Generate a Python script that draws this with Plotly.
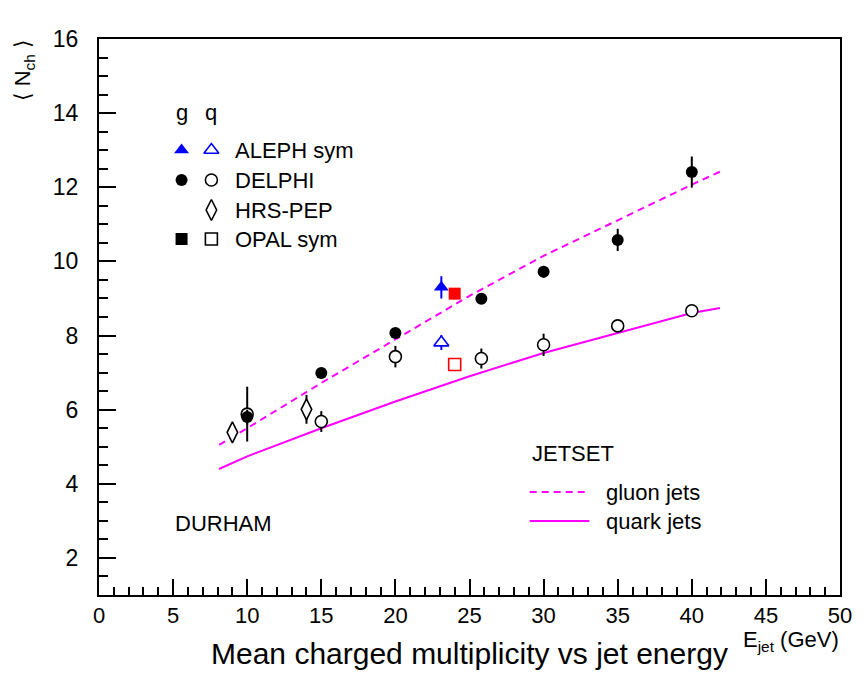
import plotly.graph_objects as go

FONT = "Liberation Sans"

# ---------------- data ----------------
# DELPHI
delphi_x_g = [10, 15, 20, 25.8, 30, 35, 40]
delphi_g = [5.80, 6.99, 8.07, 8.99, 9.72, 10.58, 12.41]
delphi_g_err = [0.2, 0.1, 0.1, 0.1, 0.16, 0.3, 0.42]
delphi_x_q = [10, 15, 20, 25.8, 30, 35, 40]
delphi_q = [5.88, 5.68, 7.43, 7.38, 7.75, 8.26, 8.67]
delphi_q_err = [0.74, 0.28, 0.29, 0.27, 0.3, 0.1, 0.1]

# HRS-PEP (quark)
hrs_x = [9.0, 14.0]
hrs_q = [5.39, 6.01]
hrs_q_err = [0.2, 0.39]

# ALEPH sym
aleph_x = [23.1]
aleph_g = [9.30]
aleph_g_err = [0.3]
aleph_q = [7.81]
aleph_q_err = [0.2]

# OPAL sym
opal_x = [24.0]
opal_g = [9.13]
opal_q = [7.22]

# JETSET predictions
jetset_x = [8.1, 10, 15, 20, 25, 30, 35, 40, 41.9]
jetset_gluon = [5.05, 5.50, 6.72, 7.90, 9.07, 10.15, 11.12, 12.07, 12.42]
jetset_quark = [4.40, 4.74, 5.50, 6.22, 6.90, 7.53, 8.07, 8.61, 8.74]

x_ticks = list(range(0, 51, 5))
y_ticks = list(range(2, 17, 2))

MAG = "#ff00ff"
BLUE = "#0000ff"
RED = "#ff0000"

# plot-area pixel frame (used for placing text / legend keys)
PL, PR, PT, PB = 99, 844, 39, 595

fig = go.Figure()

# curves
fig.add_trace(go.Scatter(x=jetset_x, y=jetset_gluon, mode="lines",
                         line=dict(color=MAG, width=2, dash="7px,5px")))
fig.add_trace(go.Scatter(x=jetset_x, y=jetset_quark, mode="lines",
                         line=dict(color=MAG, width=2)))

def err(arr, color="black"):
    return dict(type="data", array=arr, visible=True, thickness=2, width=0, color=color)

# open (quark) markers first
fig.add_trace(go.Scatter(x=delphi_x_q, y=delphi_q, mode="markers",
                         error_y=err(delphi_q_err),
                         marker=dict(symbol="circle", size=12, color="white",
                                     line=dict(color="black", width=1.6))))
fig.add_trace(go.Scatter(x=hrs_x, y=hrs_q, mode="markers",
                         error_y=err(hrs_q_err),
                         marker=dict(symbol="diamond-tall", size=15, color="white",
                                     line=dict(color="black", width=1.6))))
fig.add_trace(go.Scatter(x=aleph_x, y=aleph_q, mode="markers",
                         error_y=err(aleph_q_err, BLUE),
                         marker=dict(symbol="triangle-up", size=13, color="white",
                                     line=dict(color=BLUE, width=1.6))))
fig.add_trace(go.Scatter(x=opal_x, y=opal_q, mode="markers",
                         marker=dict(symbol="square", size=12, color="white",
                                     line=dict(color=RED, width=1.6))))
# filled (gluon) markers
fig.add_trace(go.Scatter(x=delphi_x_g, y=delphi_g, mode="markers",
                         error_y=err(delphi_g_err),
                         marker=dict(symbol="circle", size=12, color="black",
                                     line=dict(width=0))))
fig.add_trace(go.Scatter(x=aleph_x, y=aleph_g, mode="markers",
                         error_y=err(aleph_g_err, BLUE),
                         marker=dict(symbol="triangle-up", size=13, color=BLUE,
                                     line=dict(width=0))))
fig.add_trace(go.Scatter(x=opal_x, y=opal_g, mode="markers",
                         marker=dict(symbol="square", size=12, color=RED,
                                     line=dict(width=0))))

# ---------------- legend keys (pixel-mapped overlay axes) ----------------
leg_rows = {"ALEPH sym": 150, "DELPHI": 180, "HRS-PEP": 210, "OPAL sym": 239}
GX, QX = 182, 212
key_g = [("ALEPH sym", "triangle-up", BLUE), ("DELPHI", "circle", "black"),
         ("OPAL sym", "square", "black")]
key_q = [("ALEPH sym", "triangle-up", BLUE), ("DELPHI", "circle", "black"),
         ("HRS-PEP", "diamond-tall", "black"), ("OPAL sym", "square", "black")]

def ksize(sym):
    return {"diamond-tall": 15, "triangle-up": 13}.get(sym, 12)

for name, sym, col in key_g:
    fig.add_trace(go.Scatter(x=[GX], y=[leg_rows[name]], xaxis="x2", yaxis="y2",
                             mode="markers",
                             marker=dict(symbol=sym, size=ksize(sym),
                                         color=col, line=dict(width=0))))
for name, sym, col in key_q:
    fig.add_trace(go.Scatter(x=[QX], y=[leg_rows[name]], xaxis="x2", yaxis="y2",
                             mode="markers",
                             marker=dict(symbol=sym, size=ksize(sym),
                                         color="white", line=dict(color=col, width=1.6))))
fig.add_trace(go.Scatter(x=[532, 592], y=[492, 492], xaxis="x2", yaxis="y2", mode="lines",
                         line=dict(color=MAG, width=2, dash="7px,5px")))
fig.add_trace(go.Scatter(x=[532, 592], y=[521, 521], xaxis="x2", yaxis="y2", mode="lines",
                         line=dict(color=MAG, width=2)))

ann = []
def txt(t, x, y, size=22, xa="left", angle=0):
    ann.append(dict(text=t, x=(x - PL) / (PR - PL), y=(PB - y) / (PB - PT),
                    xref="paper", yref="paper", showarrow=False,
                    xanchor=xa, yanchor="middle", textangle=angle,
                    font=dict(family=FONT, size=size, color="black")))

txt("g", GX, 113, xa="center")
txt("q", QX, 113, xa="center")
for name, yy in leg_rows.items():
    txt(name, 234, yy)
txt("JETSET", 532, 453)
txt("gluon jets", 607, 492)
txt("quark jets", 607, 521)
txt("DURHAM", 173, 523)
txt("Mean charged multiplicity vs jet energy", 471, 653, size=30, xa="center")
txt("E<sub>jet</sub> (GeV)", 845, 641, size=22, xa="right")
txt("⟨ N<sub>ch</sub> ⟩", 24, 70, size=22, xa="center", angle=-90)

axis_common = dict(showgrid=False, zeroline=False, showline=True, linewidth=2,
                   linecolor="black", mirror=True, ticks="inside", tickwidth=1.5,
                   tickcolor="black")

fig.update_layout(
    width=864, height=699,
    margin=dict(l=PL, r=864 - PR, t=PT, b=699 - PB),
    paper_bgcolor="white", plot_bgcolor="white",
    showlegend=False,
    hovermode=False,
    annotations=ann,
    xaxis=dict(range=[0, 50], tickmode="array", tickvals=x_ticks, ticklen=16,
               minor=dict(dtick=1, tick0=0, ticklen=8, ticks="inside",
                          tickwidth=1.5, tickcolor="black", showgrid=False),
               ticklabelstandoff=0,
               tickfont=dict(family=FONT, size=22, color="black"), **axis_common),
    yaxis=dict(range=[1, 16], tickmode="array", tickvals=y_ticks, ticklen=17,
               minor=dict(dtick=0.5, tick0=0, ticklen=9, ticks="inside",
                          tickwidth=1.5, tickcolor="black", showgrid=False),
               ticklabelstandoff=14,
               tickfont=dict(family=FONT, size=23, color="black"), **axis_common),
    xaxis2=dict(range=[PL, PR], overlaying="x", visible=False, anchor="y2"),
    yaxis2=dict(range=[PB, PT], overlaying="y", visible=False, anchor="x2"),
)

fig.write_html("out.html", config={"displayModeBar": False},
               post_script="document.body.style.margin='0';")
